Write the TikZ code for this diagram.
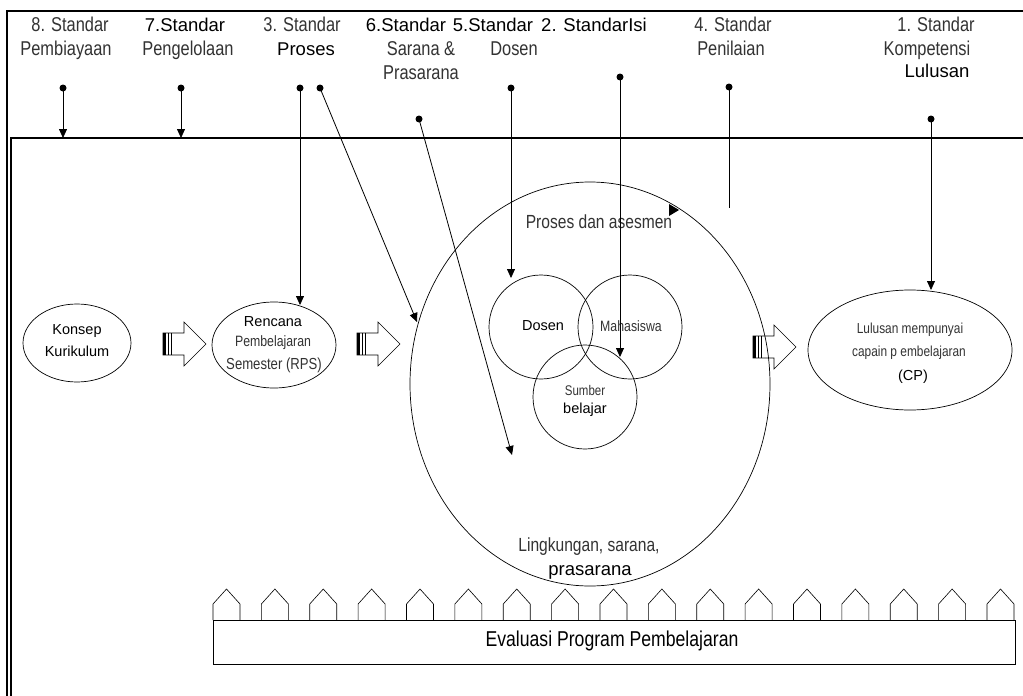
\documentclass[tikz,border=0pt]{standalone}
\usepackage{fontspec}
\setmainfont{Liberation Sans}
\newfontfamily\narrowfam[FakeStretch=0.82]{Liberation Sans}
\usetikzlibrary{arrows.meta,shapes.geometric}
\tikzset{
  frameline/.style={line width=1.1pt},
  conn/.style={line width=0.8pt,-{Triangle[length=9pt,width=8pt]}},
  plainconn/.style={line width=0.8pt},
  dotnode/.style={circle,fill,inner sep=0pt,minimum size=7pt},
  lbl/.style={font=\fontsize{18.5}{22}\selectfont,inner sep=0pt,anchor=base},
  nlbl/.style={font=\narrowfam\fontsize{20}{24}\selectfont,inner sep=0pt,anchor=base,text=black!80},
  stxt/.style={font=\fontsize{14.5}{17}\selectfont,inner sep=0pt},
  nstxt/.style={font=\narrowfam\fontsize{15}{18}\selectfont,inner sep=0pt,text=black!80},
  lstxt/.style={font=\narrowfam\fontsize{14.5}{17}\selectfont,inner sep=0pt,text=black!80},
  oval/.style={ellipse,draw,line width=0.7pt,inner sep=0pt},
  ring/.style={circle,draw,line width=0.7pt,inner sep=0pt},
  housepath/.style={line width=0.6pt},
  blockarr/.pic={
    \draw[line width=0.6pt] (0,-11) -- (21,-11) -- (21,-22) -- (43,0) -- (21,22) -- (21,11) -- (0,11) -- cycle;
    \fill (0,-11) rectangle (3,11);
    \draw[line width=0.6pt] (5.5,-11) -- (5.5,11);
    \draw[line width=0.6pt] (8,-11) -- (8,11);
  }
}
\begin{document}
\begin{tikzpicture}[x=1pt,y=-1pt]
\useasboundingbox (0,0) rectangle (1023,696);
\fill[white] (0,0) rectangle (1023,696);
% frames
\draw[frameline] (7,696) -- (7,11) -- (1023,11);
\draw[frameline] (11,696) -- (11,138) -- (1023,138);

% top labels
\node[nlbl] (t8a) at (70,31) {8. Standar};
\node[nlbl] (t8b) at (66,55) {Pembiayaan};
\node[lbl] (t7a) at (185,31) {7.Standar};
\node[nlbl] (t7b) at (188,55) {Pengelolaan};
\node[nlbl] (t3a) at (302,31) {3. Standar};
\node[lbl] (t3b) at (306,55) {Proses};
\node[lbl] (t6a) at (406,31) {6.Standar};
\node[nlbl] (t6b) at (421,55) {Sarana \&};
\node[nlbl] (t6c) at (421,79) {Prasarana};
\node[lbl] (t5a) at (493,31) {5.Standar};
\node[nlbl] (t5b) at (514,55) {Dosen};
\node[lbl] (t2a) at (594,31) {2. StandarIsi};
\node[nlbl] (t4a) at (733,31) {4. Standar};
\node[nlbl] (t4b) at (731,55) {Penilaian};
\node[nlbl] (t1a) at (936,31) {1. Standar};
\node[nlbl] (t1b) at (927,55) {Kompetensi};
\node[lbl] (t1c) at (937,77) {Lulusan};

% dots
\node[dotnode] (d8) at (63,88) {};
\node[dotnode] (d7) at (181,88) {};
\node[dotnode] (d3a) at (300,88) {};
\node[dotnode] (d3b) at (320,88) {};
\node[dotnode] (d6) at (419,119) {};
\node[dotnode] (d5) at (511,88) {};
\node[dotnode] (d2) at (620,77) {};
\node[dotnode] (d4) at (729,87) {};
\node[dotnode] (d1) at (931,119) {};

% main shapes
\node[oval,minimum width=108pt,minimum height=78pt] (konsep) at (77,343) {};
\node[stxt] (konsepa) at (77,331) {Konsep};
\node[stxt] (konsepb) at (77,351) {Kurikulum};

\node[oval,minimum width=124pt,minimum height=86pt] (rps) at (274,345) {};
\node[stxt] (rpsa) at (273,322) {Rencana};
\node[nstxt] (rpsb) at (273,343) {Pembelajaran};
\node[font=\narrowfam\fontsize{16}{18}\selectfont,inner sep=0pt,text=black!80] (rpsc) at (274,365) {Semester (RPS)};

\node[oval,minimum width=360pt,minimum height=404pt] (big) at (590,384) {};
\node[font=\narrowfam\fontsize{19}{22}\selectfont,inner sep=0pt,text=black!80] (proses) at (599,222) {Proses dan asesmen};
\node[ring,minimum size=104pt] (cdosen) at (541,327) {};
\node[ring,minimum size=104pt] (cmhs) at (630,327) {};
\node[ring,minimum size=104pt] (csumber) at (585,397) {};
\node[stxt] (tdosen) at (543,326) {Dosen};
\node[nstxt] (tmhs) at (631,326) {Mahasiswa};
\node[font=\narrowfam\fontsize{14}{17}\selectfont,inner sep=0pt,text=black!80] (tsumber) at (585,390) {Sumber};
\node[stxt] (tbelajar) at (585,410) {belajar};
\node[font=\narrowfam\fontsize{19}{22}\selectfont,inner sep=0pt,text=black!80] (ling) at (589,547) {Lingkungan, sarana,};
\node[font=\fontsize{18.5}{22}\selectfont,inner sep=0pt] (pras) at (590,572) {prasarana};

\node[oval,minimum width=204pt,minimum height=120pt] (lulus) at (910,350) {};
\node[lstxt] (lulusa) at (910,330) {Lulusan mempunyai};
\node[lstxt] (lulusb) at (909,353) {capain p embelajaran};
\node[stxt] (lulusc) at (913,377) {(CP)};

% block arrows
\pic (ba1) at (163,344) {blockarr};
\pic (ba2) at (357,344) {blockarr};
\pic (ba3) at (753,347) {blockarr};

% connector end points
\coordinate (e8) at (63,138);
\coordinate (e7) at (181,138);
\coordinate (e3a) at (300,305);
\coordinate (e3b) at (417,322);
\coordinate (e6) at (512,455);
\coordinate (e5) at (511,278);
\coordinate (e2) at (620,357);
\coordinate (e4) at (729,208);
\coordinate (e1) at (931,290);

\draw[conn] (d8.center) -- (e8);
\draw[conn] (d7.center) -- (e7);
\draw[conn] (d3a.center) -- (e3a);
\draw[conn] (d3b.center) -- (e3b);
\draw[conn] (d6.center) -- (e6);
\draw[conn] (d5.center) -- (e5);
\draw[conn] (d2.center) -- (e2);
\draw[plainconn] (d4.center) -- (e4);
\draw[conn] (d1.center) -- (e1);
% stray arrowhead
\fill (669,204) -- (679,210) -- (669,216) -- cycle;

% evaluation bar with houses
\foreach \i in {0,...,16} {
  \draw[housepath] ({213+\i*48.375},620) -- ++(0,-16) -- ++(13.5,-15) -- ++(13.5,15) -- ++(0,16);
}
\draw[line width=0.8pt] (213,620) rectangle (1015,664);
\node[font=\narrowfam\fontsize{21.5}{24}\selectfont,inner sep=0pt] (evaltxt) at (612,641) {Evaluasi Program Pembelajaran};
\end{tikzpicture}
\end{document}
